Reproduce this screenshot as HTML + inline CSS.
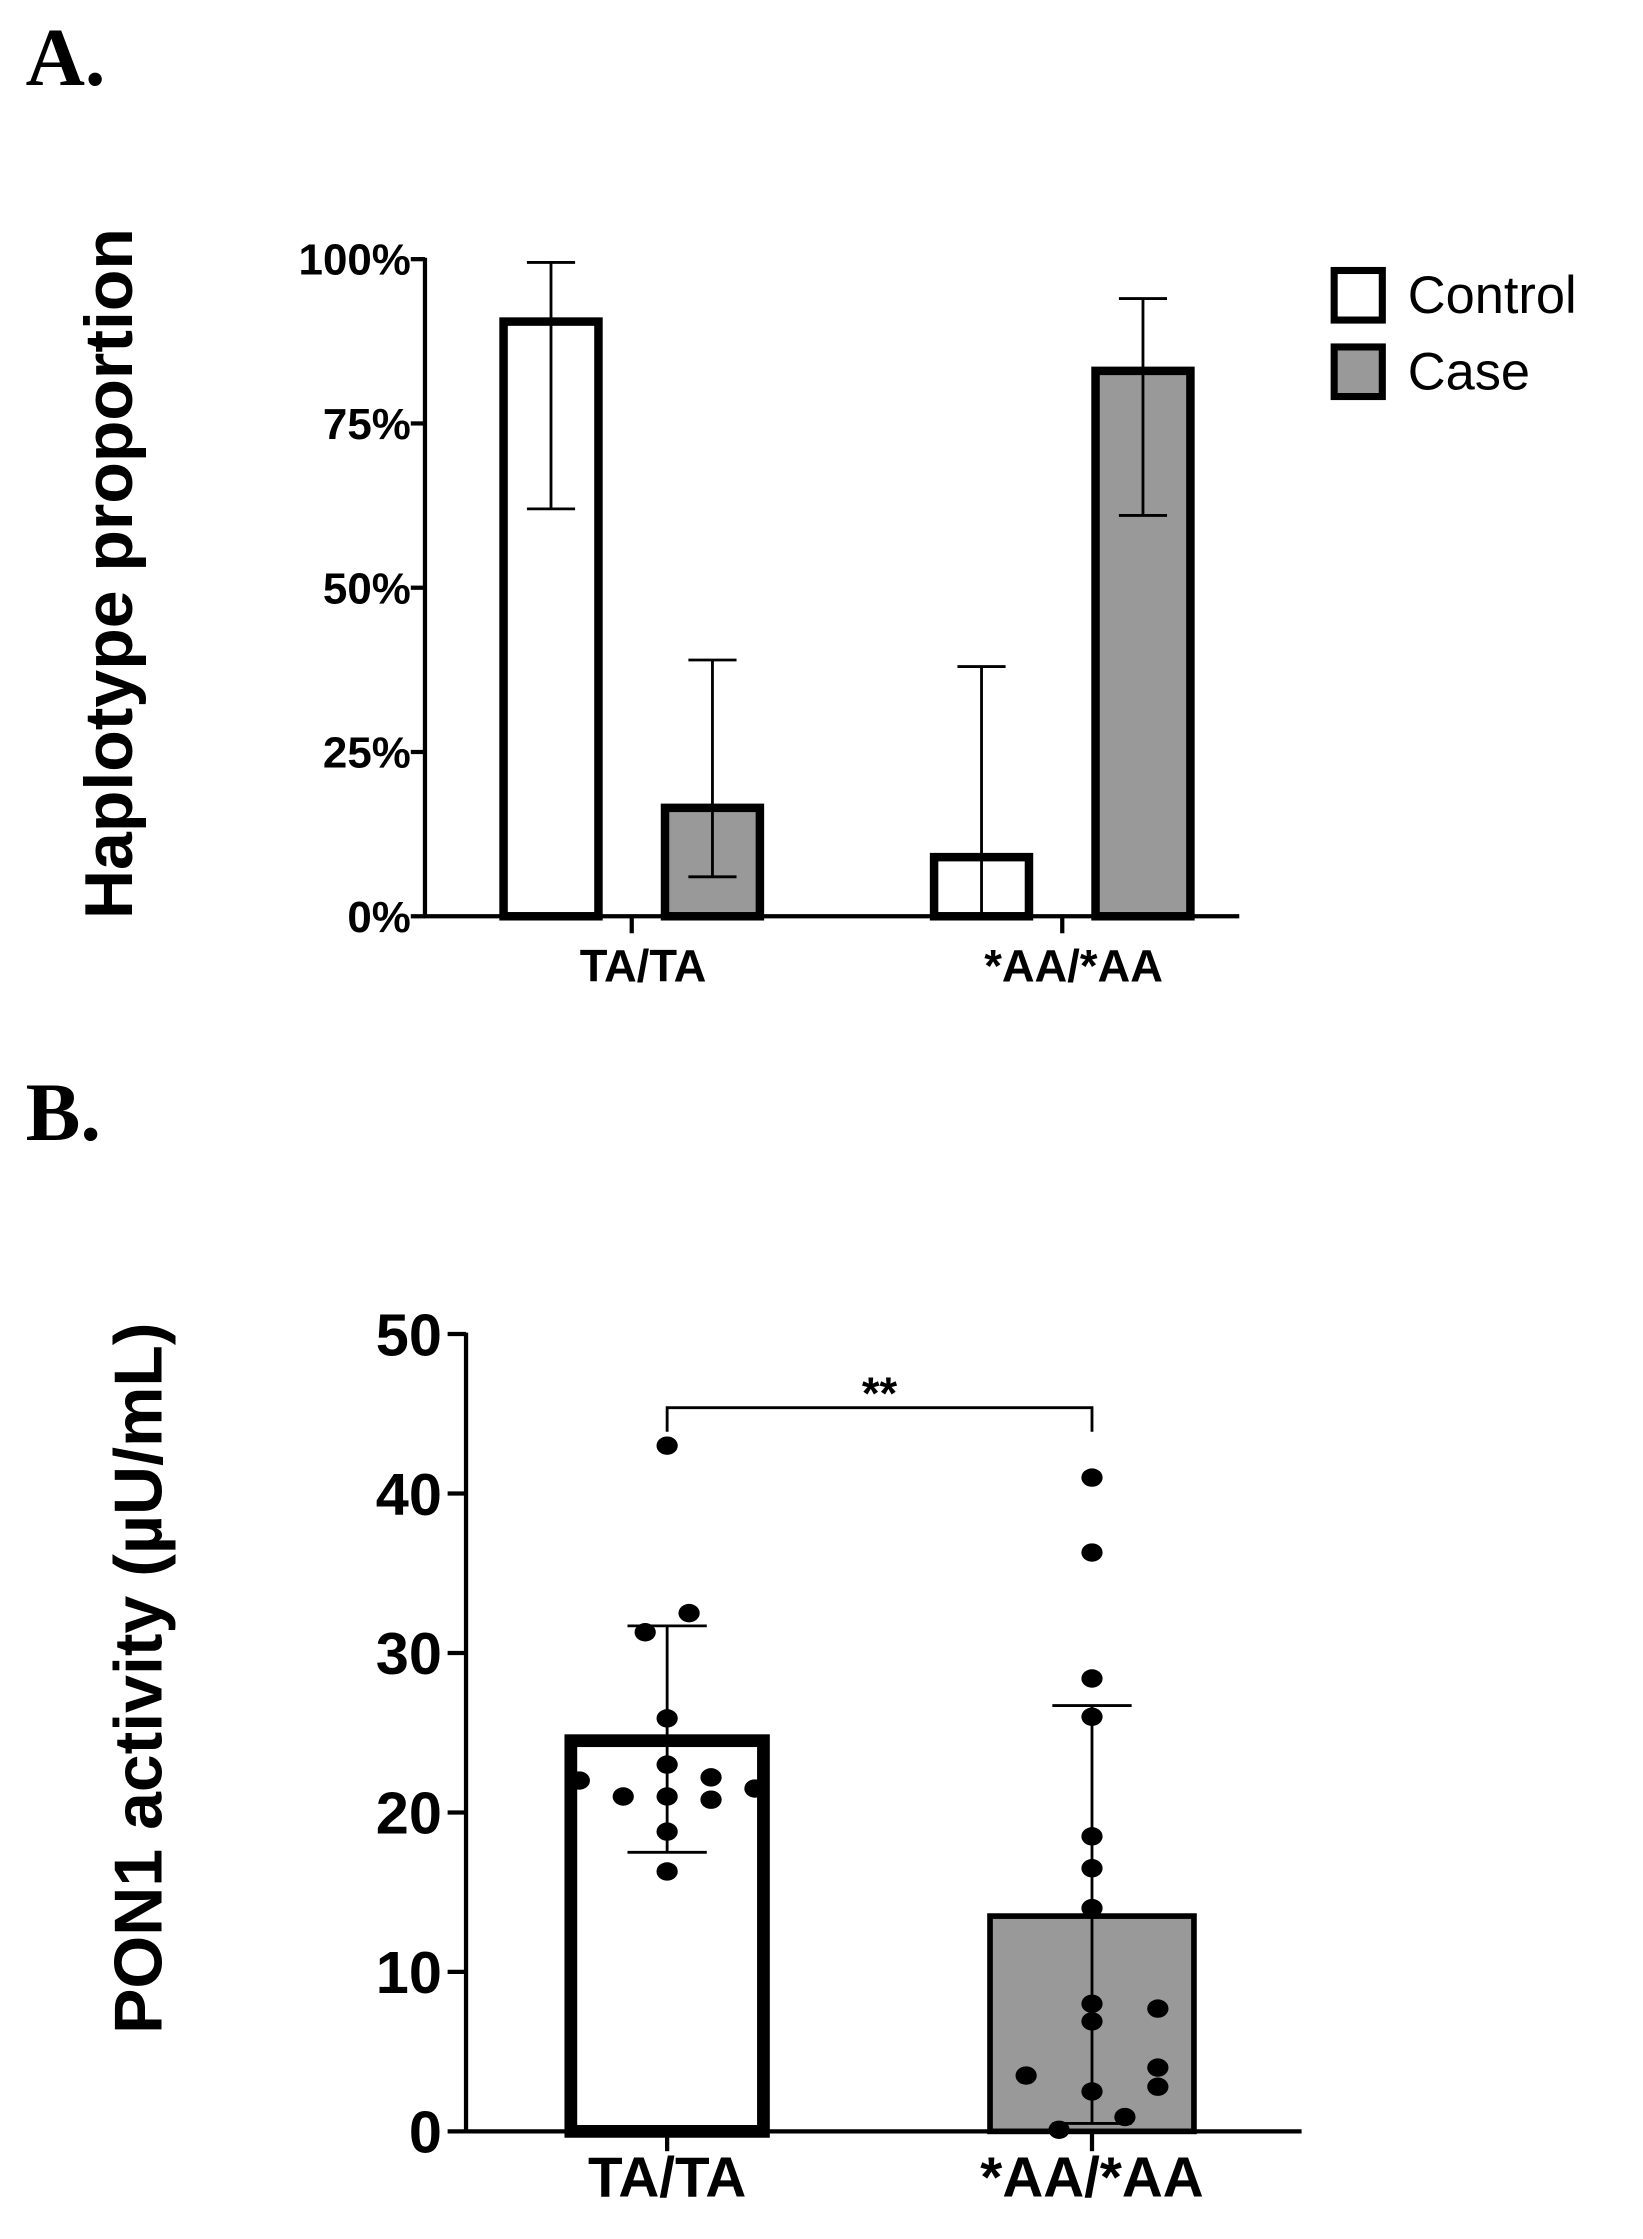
<!DOCTYPE html>
<html><head><meta charset="utf-8"><style>
html,body{margin:0;padding:0;background:#fff;}
svg{display:block;}
text{font-family:"Liberation Sans",Arial,sans-serif;}
</style></head><body>
<svg id="fig" width="1643" height="2239" viewBox="0 0 1160 1581" xmlns="http://www.w3.org/2000/svg">
<text x="18" y="60" style="font-family:'Liberation Serif',serif;font-weight:bold;font-size:58px">A.</text>
<text x="18" y="805" style="font-family:'Liberation Serif',serif;font-weight:bold;font-size:58px">B.</text>
<g id="chartA"></g>
<g id="chartB"></g>
</svg>
<script>
// Panel A data
const catsA = ["TA/TA", "*AA/*AA"];
const controlVals = [90.5, 9];
const caseVals = [16.5, 83];
const controlErrLo = [62, 0];
const controlErrHi = [99.5, 38];
const caseErrLo = [6, 61];
const caseErrHi = [39, 94];
const ticksA = [0, 25, 50, 75, 100];
const tickLabelsA = ["0%", "25%", "50%", "75%", "100%"];
// Panel B data
const catsB = ["TA/TA", "*AA/*AA"];
const meansB = [24.5, 13.5];
const errLoB = [17.5, 0.5];
const errHiB = [31.7, 26.7];
const ticksB = [0, 10, 20, 30, 40, 50];
const taPoints = [43, 32.5, 31.3, 25.9, 23, 22, 21.5, 22.2, 21, 21, 20.8, 18.8, 16.3];
const taOffsets = [0, 1, -1, 0, 0, -4, 4, 2, -2, 0, 2, 0, 0];
const aaPoints = [41, 36.3, 28.4, 26, 18.5, 16.5, 14, 8, 7.7, 6.9, 3.5, 4, 2.8, 2.5, 0.9, 0.1];
const aaOffsets = [0, 0, 0, 0, 0, 0, 0, 0, 3, 0, -3, 3, 3, 0, 1.5, -1.5];

const NS = "http://www.w3.org/2000/svg";
function mk(parent, tag, attrs, txt) {
  const e = document.createElementNS(NS, tag);
  for (const k in attrs) e.setAttribute(k, attrs[k]);
  if (txt !== undefined) e.textContent = txt;
  parent.appendChild(e);
  return e;
}
// ---------- Panel A ----------
const A = document.getElementById("chartA");
const yA = v => 647 - (v / 100) * 464;
const centersA = [446, 750];
let el;
ticksA.forEach((t, i) => {
  el = mk(A, "line", {x1: 290, x2: 300, y1: yA(t), y2: yA(t), stroke: "#000", "stroke-width": 3});
  
  
  el = mk(A, "text", {x: 290, y: yA(t) + 11, "text-anchor": "end", "font-size": "31", "font-weight": "bold"}, tickLabelsA[i]);
  
  
});
function barA(cx, v, lo, hi, fill, name) {
  const w = 67;
  el = mk(A, "rect", {x: cx - w / 2, y: yA(v), width: w, height: yA(0) - yA(v), fill: fill, stroke: "#000", "stroke-width": 6});
  
  
  const g = mk(A, "g", {stroke: "#000", "stroke-width": 2});
  
  
  mk(g, "line", {x1: cx, x2: cx, y1: yA(lo), y2: yA(hi)});
  mk(g, "line", {x1: cx - 17, x2: cx + 17, y1: yA(lo), y2: yA(lo)});
  mk(g, "line", {x1: cx - 17, x2: cx + 17, y1: yA(hi), y2: yA(hi)});
}
catsA.forEach((c, i) => {
  barA(centersA[i] - 57, controlVals[i], controlErrLo[i], controlErrHi[i], "#fff", "bar-control-" + i);
  barA(centersA[i] + 57, caseVals[i], caseErrLo[i], caseErrHi[i], "#999", "bar-case-" + i);
  el = mk(A, "line", {x1: centersA[i], x2: centersA[i], y1: 647, y2: 659, stroke: "#000", "stroke-width": 3});
  
  
  el = mk(A, "text", {x: centersA[i] + 8, y: 693, "text-anchor": "middle", "font-size": "32", "font-weight": "bold"}, c);
  
  
});
el = mk(A, "line", {x1: 300, x2: 300, y1: yA(100) - 1, y2: 648, stroke: "#000", "stroke-width": 3});


el = mk(A, "line", {x1: 299, x2: 875, y1: 647, y2: 647, stroke: "#000", "stroke-width": 3});


el = mk(A, "text", {x: 0, y: 0, transform: "translate(93,405) rotate(-90)", "text-anchor": "middle", "font-size": "48", "font-weight": "bold"}, "Haplotype proportion");


el = mk(A, "rect", {x: 942, y: 191, width: 34, height: 35, fill: "#fff", stroke: "#000", "stroke-width": 5});


el = mk(A, "text", {x: 994, y: 221, "font-size": "37"}, "Control");


el = mk(A, "rect", {x: 942, y: 245, width: 34, height: 35, fill: "#999", stroke: "#000", "stroke-width": 5});


el = mk(A, "text", {x: 994, y: 275, "font-size": "37"}, "Case");



// ---------- Panel B ----------
const B = document.getElementById("chartB");
const yB = v => 1505 - (v / 50) * 563;
const centersB = [471, 771];
ticksB.forEach(t => {
  el = mk(B, "line", {x1: 316, x2: 329, y1: yB(t), y2: yB(t), stroke: "#000", "stroke-width": 3});
  
  
  el = mk(B, "text", {x: 312, y: yB(t) + 15, "text-anchor": "end", "font-size": "42", "font-weight": "bold"}, String(t));
  
  
});
const bw = [136, 144];
const bfill = ["#fff", "#999"];
const bstroke = [9, 4];
catsB.forEach((c, i) => {
  const cx = centersB[i];
  el = mk(B, "rect", {x: cx - bw[i] / 2, y: yB(meansB[i]), width: bw[i], height: yB(0) - yB(meansB[i]), fill: bfill[i], stroke: "#000", "stroke-width": bstroke[i]});
  
  
});
const ptsB = [taPoints, aaPoints], offB = [taOffsets, aaOffsets];
ptsB.forEach((arr, i) => {
  arr.forEach((v, j) => {
    el = mk(B, "ellipse", {cx: centersB[i] + offB[i][j] * 15.5, cy: yB(v), rx: 7.5, ry: 6.5, fill: "#000"});
    
    
  });
});
catsB.forEach((c, i) => {
  const cx = centersB[i];
  const g = mk(B, "g", {stroke: "#000", "stroke-width": 2});
  
  
  mk(g, "line", {x1: cx, x2: cx, y1: yB(errLoB[i]), y2: yB(errHiB[i])});
  mk(g, "line", {x1: cx - 28, x2: cx + 28, y1: yB(errLoB[i]), y2: yB(errLoB[i])});
  mk(g, "line", {x1: cx - 28, x2: cx + 28, y1: yB(errHiB[i]), y2: yB(errHiB[i])});
  el = mk(B, "line", {x1: cx, x2: cx, y1: 1505, y2: 1519, stroke: "#000", "stroke-width": 3});
  
  
  el = mk(B, "text", {x: cx, y: 1551, "text-anchor": "middle", "font-size": "40", "font-weight": "bold"}, c);
  
  
});
el = mk(B, "line", {x1: 329, x2: 329, y1: yB(50) - 1, y2: 1506, stroke: "#000", "stroke-width": 3});


el = mk(B, "line", {x1: 328, x2: 919, y1: 1505, y2: 1505, stroke: "#000", "stroke-width": 3});


el = mk(B, "path", {d: `M${centersB[0]} 1011 V994 H${centersB[1]} V1011`, fill: "none", stroke: "#000", "stroke-width": 2});


el = mk(B, "text", {x: 621, y: 995, "text-anchor": "middle", "font-size": "32", "font-weight": "bold"}, "**");


el = mk(B, "text", {x: 0, y: 0, transform: "translate(114,1185) rotate(-90)", "text-anchor": "middle", "font-size": "48", "font-weight": "bold"}, "PON1 activity (µU/mL)");


</script>
</body></html>
